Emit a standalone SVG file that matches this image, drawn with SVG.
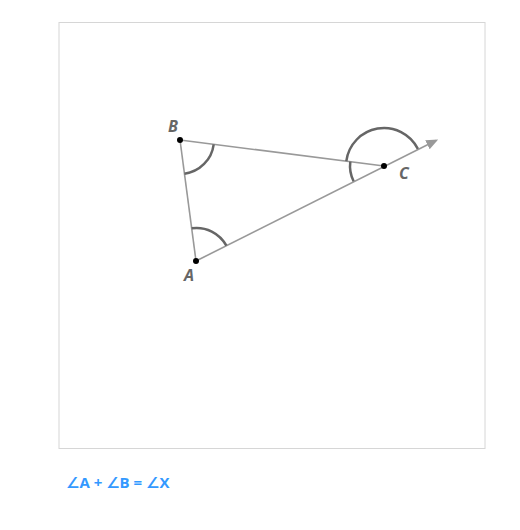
<svg xmlns="http://www.w3.org/2000/svg" width="520" height="530" viewBox="0 0 520 530">
<style>
.ln{stroke:#999;stroke-width:1.6;fill:none}
.arc{stroke:#666;stroke-width:2.5;fill:none}
.pt{fill:#000}
.lbl{font-family:"Open Sans","DejaVu Sans",sans-serif;font-size:16px;font-weight:bold;font-style:italic;fill:#666}
.eq{font-family:"Open Sans","DejaVu Sans",sans-serif;font-size:15px;font-weight:bold;fill:#3399ff}
</style>
<defs>
<marker id="ah" viewBox="0 0 10 10" refX="8" refY="5" markerWidth="12" markerHeight="10" orient="auto" markerUnits="userSpaceOnUse" preserveAspectRatio="none">
<path d="M0,0 L10,5 L0,10 z" fill="#999"/>
</marker>
</defs>
<rect x="59" y="22.5" width="426" height="426" fill="#fff" stroke="#d6d6d6" stroke-width="1"/>
<g id="connectors">
<line class="ln" x1="196" y1="261" x2="180" y2="140"/>
<line class="ln" x1="180" y1="140" x2="384" y2="166"/>
<line class="ln" x1="196" y1="261" x2="436" y2="140.5" marker-end="url(#ah)"/>
</g>
<g id="angles">
<path class="arc" d="M191.7,228.3 A34,34 0 0 1 226.4,245.7"/>
<path class="arc" d="M184.5,173.7 A34,34 0 0 0 213.7,144.3"/>
<path class="arc" d="M350.3,161.7 A34,34 0 0 0 353.6,181.3"/>
<path class="arc" d="M346.3,161.2 A38,38 0 0 1 417.9,148.9"/>
</g>
<g id="nodeA"><circle class="pt" cx="196" cy="261" r="3"/><text class="lbl" x="184" y="281">A</text></g>
<g id="nodeB"><circle class="pt" cx="180" cy="140" r="3"/><text class="lbl" x="168" y="132">B</text></g>
<g id="nodeC"><circle class="pt" cx="384" cy="166" r="3"/><text class="lbl" x="399" y="179">C</text></g>
<text class="eq" x="66" y="488">∠A + ∠B = ∠X</text>
</svg>
